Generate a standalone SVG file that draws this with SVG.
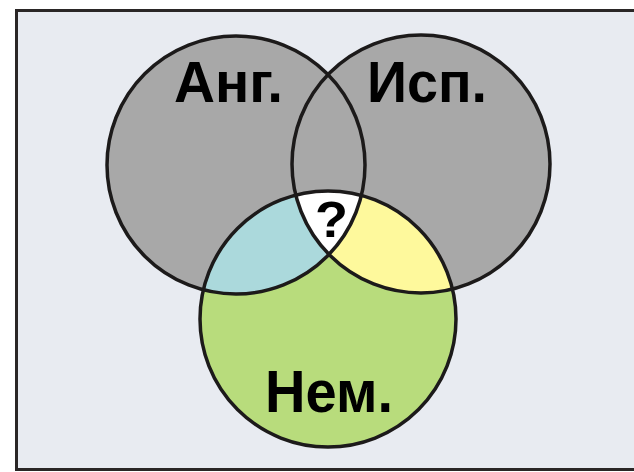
<svg xmlns="http://www.w3.org/2000/svg" width="634" height="472" viewBox="0 0 634 472">
<style>
.ring{fill:none;stroke:#1c1a1a;stroke-width:3.5}
.lbl{font-family:"Liberation Sans",Arial,sans-serif;font-weight:bold;fill:#000}
</style>
<defs>
<clipPath id="clipA"><circle cx="236" cy="165" r="129"/></clipPath>
<clipPath id="clipB"><circle cx="421" cy="164" r="129"/></clipPath>
<clipPath id="clipC"><circle cx="328" cy="319" r="128"/></clipPath>
</defs>
<rect x="0" y="0" width="634" height="472" fill="#ffffff"/>
<rect x="16.5" y="10.5" width="630" height="459" fill="#e8ebf1" stroke="#2a2626" stroke-width="3"/>
<g id="fills">
<circle cx="236" cy="165" r="129" fill="#a8a8a8"/>
<circle cx="421" cy="164" r="129" fill="#a8a8a8"/>
<circle cx="328" cy="319" r="128" fill="#b8dc7c"/>
<g clip-path="url(#clipC)">
<circle cx="236" cy="165" r="129" fill="#abd9dc"/>
<circle cx="421" cy="164" r="129" fill="#fef99c"/>
<g clip-path="url(#clipA)"><circle cx="421" cy="164" r="129" fill="#ffffff"/></g>
</g>
</g>
<g id="english"><circle class="ring" cx="236" cy="165" r="129"/><text class="lbl" x="174" y="102" font-size="57" textLength="109" lengthAdjust="spacingAndGlyphs">Анг.</text></g>
<g id="spanish"><circle class="ring" cx="421" cy="164" r="129"/><text class="lbl" x="367" y="102" font-size="57" textLength="120" lengthAdjust="spacingAndGlyphs">Исп.</text></g>
<g id="german"><circle class="ring" cx="328" cy="319" r="128"/><text class="lbl" x="265" y="412" font-size="60" textLength="128" lengthAdjust="spacingAndGlyphs">Нем.</text></g>
<g id="question"><text class="lbl" x="315" y="237" font-size="50" textLength="33" lengthAdjust="spacingAndGlyphs">?</text></g>
</svg>
